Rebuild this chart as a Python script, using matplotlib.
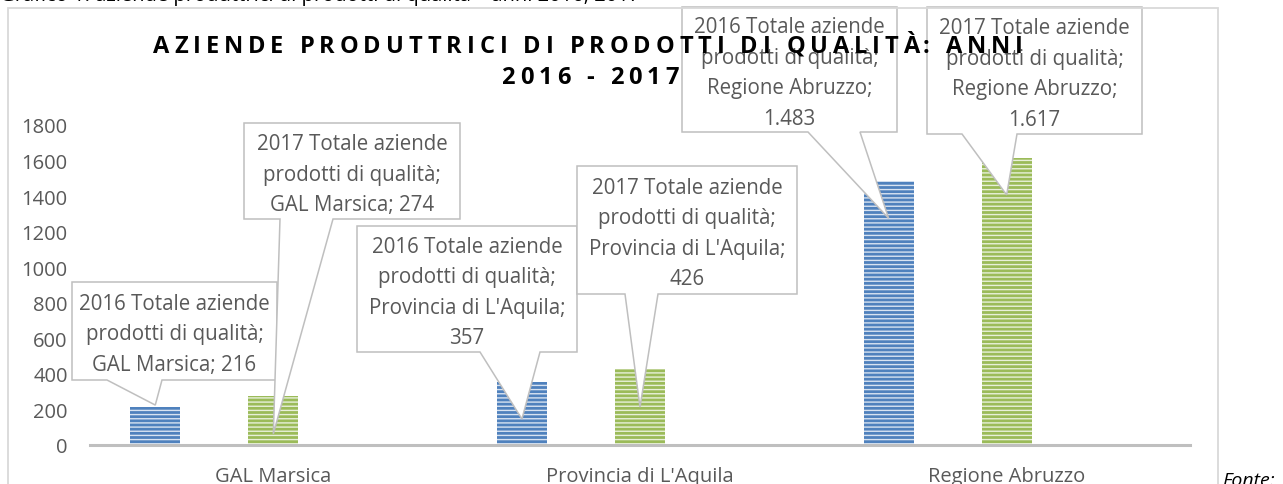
import matplotlib
matplotlib.use("Agg")
import matplotlib.pyplot as plt
from matplotlib.patches import Polygon, Rectangle
import numpy as np

plt.rcParams['font.family'] = ['Open Sans', 'DejaVu Sans']

W, H = 1283, 485

# data
categories = ["GAL Marsica", "Provincia di L'Aquila", "Regione Abruzzo"]
years = ["2016", "2017"]
values_2016 = [216, 357, 1483]
values_2017 = [274, 426, 1617]
yticks = list(range(0, 1801, 200))

caption = "Grafico 1: aziende produttrici di prodotti di qualità – anni 2016, 2017"
title_1 = "AZIENDE PRODUTTRICI DI PRODOTTI DI QUALITÀ: ANNI"
title_2 = "2016 - 2017"

grey_txt = '#595959'
face_cols = ['#4f81bd', '#9bbb59']
stripe_cols = ['#d8e3f1', '#e8f0da']


def px(x, y):
    # image pixel (top-left origin) -> figure fraction
    return (x / W, 1 - y / H)


def fmt(v):
    return f"{v:,}".replace(",", ".")


fig = plt.figure(figsize=(W / 100, H / 100), dpi=100)
ax = fig.add_axes([90 / W, 1 - 446 / H, 1100 / W, 320 / H])

x = np.arange(len(categories))
offsets = [-0.322, 0.0]
bar_w = 0.136
series = [values_2016, values_2017]

for vals, off, fc, sc in zip(series, offsets, face_cols, stripe_cols):
    ax.bar(x + off, vals, width=bar_w, color=fc, edgecolor=sc, linewidth=0,
           hatch='----', zorder=2)

ax.set_xlim(-0.5, 2.5)
ax.set_ylim(0, 1800)
for side in ["left", "top", "right"]:
    ax.spines[side].set_visible(False)
ax.spines["bottom"].set_color('#bfbfbf')
ax.spines["bottom"].set_linewidth(2.2)
ax.set_yticks(yticks)
ax.set_xticks(x, categories)
ax.tick_params(axis='both', length=0, colors=grey_txt, labelsize=14.5)
ax.tick_params(axis='y', pad=16)
ax.tick_params(axis='x', pad=15)
ax.set_facecolor('none')

# callout boxes: left, top, right, bottom, wedge base left, wedge base right, tip as share of bar
boxes = [
    [(72, 283, 277, 381, 107, 162, 1.04),
     (357, 227, 577, 353, 480, 540, 0.41),
     (682, 8, 897, 133, 808, 860, 0.86)],
    [(244, 124, 460, 220, 280, 333, 0.23),
     (577, 167, 797, 295, 625, 658, 0.50),
     (927, 8, 1142, 135, 962, 1017, 0.87)],
]

to_fig = fig.transFigure.inverted()
for s, (vals, off, year) in enumerate(zip(series, offsets, years)):
    for j, v in enumerate(vals):
        l, t, r, b, bl, br, frac = boxes[s][j]
        tip = to_fig.transform(ax.transData.transform((x[j] + off, v * frac)))
        poly = [px(l, t), px(r, t), px(r, b), px(br, b), tip, px(bl, b), px(l, b)]
        ax.add_patch(Polygon(poly, closed=True, transform=fig.transFigure,
                             facecolor='white', edgecolor='#bfbfbf', linewidth=1.1,
                             clip_on=False, zorder=4))
        last = f"{categories[j]}; {fmt(v)}"
        if len(last) > 18:
            last = f"{categories[j]};\n{fmt(v)}"
        label = f"{year} Totale aziende\nprodotti di qualità;\n{last}"
        cx, cy = px((l + r) / 2, (t + b) / 2 + 3)
        ax.text(cx, cy, label, transform=fig.transFigure, ha='center', va='center',
                fontsize=14.8, color=grey_txt, linespacing=1.6, zorder=5, clip_on=False)

# title with letter spacing
renderer = fig.canvas.get_renderer()
probe = fig.text(0, 0, "|", fontsize=17, fontweight='bold')
bar_px = probe.get_window_extent(renderer).width


def width_of(s):
    probe.set_text(s + "|")
    return probe.get_window_extent(renderer).width - bar_px


track = (870 - width_of(title_1)) / (len(title_1) - 1)


def spaced(s, cx, cy):
    total = width_of(s) + track * (len(s) - 1)
    x0 = cx - total / 2
    for i, ch in enumerate(s):
        xp = x0 + width_of(s[:i]) + track * i
        fig.text(xp / W, 1 - cy / H, ch, fontsize=17, fontweight='bold',
                 color='black', ha='left', va='center', zorder=10)


spaced(title_1, 588, 47)
spaced(title_2, 590, 78)
probe.remove()

# frame, caption, source
fig.add_artist(Rectangle((8 / W, -0.1), 1210 / W, 1 - 9 / H + 0.1, fill=False,
                         edgecolor='#d9d9d9', linewidth=1.3, transform=fig.transFigure))
fig.text(0, 1 - 1 / H, caption, fontsize=14.5, color='black', va='baseline')
fig.text(1222 / W, 1 - 486 / H, "Fonte:", fontsize=14, style='italic',
         color='black', va='baseline')

fig.savefig("out.png", dpi=100)
